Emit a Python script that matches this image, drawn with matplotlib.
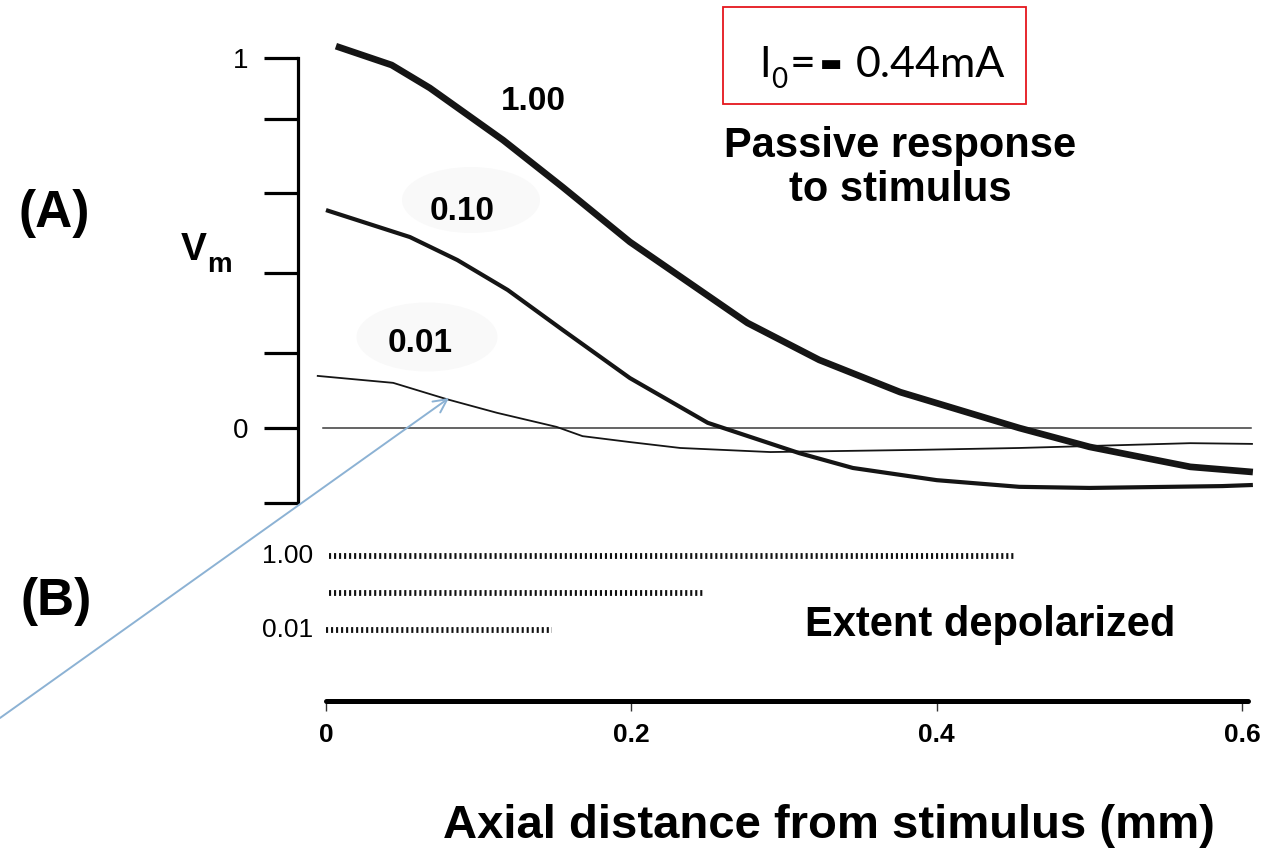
import matplotlib
matplotlib.use("Agg")
import matplotlib.pyplot as plt
from matplotlib.patches import Ellipse, Rectangle

# ---------------- data ----------------
# (A) passive response: axial distance (mm) vs normalised Vm
x_100 = [0.0065, 0.043, 0.068, 0.116, 0.155, 0.199, 0.276, 0.323, 0.376, 0.454, 0.500, 0.566, 0.607]
v_100 = [1.032, 0.981, 0.919, 0.778, 0.651, 0.503, 0.284, 0.184, 0.097, 0.0, -0.051, -0.105, -0.119]

x_010 = [0.0, 0.055, 0.086, 0.119, 0.155, 0.199, 0.250, 0.310, 0.345, 0.400, 0.454, 0.500, 0.587, 0.607]
v_010 = [0.589, 0.516, 0.454, 0.373, 0.265, 0.135, 0.014, -0.068, -0.108, -0.141, -0.159, -0.162, -0.157, -0.154]

x_001 = [-0.006, 0.044, 0.079, 0.112, 0.151, 0.168, 0.199, 0.232, 0.291, 0.389, 0.454, 0.566, 0.607]
v_001 = [0.141, 0.122, 0.078, 0.041, 0.003, -0.022, -0.038, -0.054, -0.065, -0.059, -0.054, -0.041, -0.043]

curve_labels = ["1.00", "0.10", "0.01"]
zero_line_x = [-0.002, 0.606]

# (B) extent depolarized (mm)
extent_start = [0.002, 0.002, 0.0]
extent_end = [0.451, 0.247, 0.148]
extent_labels = ["1.00", "", "0.01"]

x_ticks = [0, 0.2, 0.4, 0.6]
x_ticklabels = ["0", "0.2", "0.4", "0.6"]
vm_ticks = [-0.203, 0.0, 0.203, 0.419, 0.635, 0.835, 1.0]
vm_ticklabels = ["", "0", "", "", "", "", "1"]

# ---------------- layout ----------------
W, H = 1273, 849
X0, Y0, SX, SY = 326, 428, 1527.0, 370.0   # pixel origin and scale of data space

def fx(px):
    return px / W

def fy(py):
    return 1 - py / H

def dx(px):
    return (px - X0) / SX

def dy(py):
    return (Y0 - py) / SY

BOLD = ["Liberation Sans", "DejaVu Sans"]

fig = plt.figure(figsize=(W / 100, H / 100), dpi=100)
fig.patch.set_facecolor("white")
ax = fig.add_axes([0, 0, 1, 1])
ax.set_facecolor("none")
ax.set_xlim(dx(0), dx(W))
ax.set_ylim(dy(H), dy(0))

# faint label backgrounds
for (cx, cy, w, h) in [(471, 200, 138, 66), (427, 337, 141, 69)]:
    fig.patches.append(Ellipse((fx(cx), fy(cy)), w / W, h / H, transform=fig.transFigure,
                               facecolor="#f9f9f9", edgecolor="none", zorder=0))

# spines
ax.spines["top"].set_visible(False)
ax.spines["right"].set_visible(False)
ax.spines["left"].set_position(("data", dx(298)))
ax.spines["left"].set_bounds(vm_ticks[0], vm_ticks[-1])
ax.spines["left"].set_linewidth(2.3)
ax.spines["bottom"].set_position(("data", dy(701)))
ax.spines["bottom"].set_bounds(0, 0.604)
ax.spines["bottom"].set_linewidth(3.6)
ax.spines["bottom"].set_capstyle("round")

ax.set_yticks(vm_ticks)
ax.set_yticklabels(vm_ticklabels, family=BOLD, fontsize=20)
ax.tick_params(axis="y", length=24.5, width=2.3, pad=11, direction="out")
ax.set_xticks(x_ticks)
ax.set_xticklabels(x_ticklabels, family=BOLD, fontsize=19, fontweight="bold")
ax.tick_params(axis="x", length=7, width=1.0, pad=9, direction="out", color="#333333")

# curves
ax.plot(zero_line_x, [0, 0], color="#3a3a3a", lw=1.1, zorder=2)
ax.plot(x_100, v_100, color="#151515", lw=4.8, solid_capstyle="butt", zorder=3)
ax.plot(x_010, v_010, color="#151515", lw=3.0, solid_capstyle="butt", zorder=3)
ax.plot(x_001, v_001, color="#151515", lw=1.3, solid_capstyle="butt", zorder=3)

# curve labels
for lab, (px, py) in zip(curve_labels, [(533, 101), (462, 211), (420, 343)]):
    fig.text(fx(px), fy(py), lab, family=BOLD, fontweight="bold", fontsize=24,
             ha="center", va="center")

# (B) dotted extents
row_py = [556, 593, 630]
for s, e, lab, py in zip(extent_start, extent_end, extent_labels, row_py):
    ax.plot([s, e], [dy(py), dy(py)], color="#111111", lw=4.2,
            linestyle=(0, (0.36, 0.5)), dash_capstyle="butt")
    if lab:
        fig.text(fx(288), fy(py), lab, family=BOLD, fontsize=19, ha="center", va="center")

# arrow
ax.annotate("", xy=(dx(449), dy(398)), xytext=(dx(0), dy(718)),
            arrowprops=dict(arrowstyle="->", color="#8cb2d4", lw=1.4, mutation_scale=24,
                            shrinkA=0, shrinkB=0))

# texts
fig.text(fx(54), fy(213), "(A)", family=BOLD, fontweight="bold", fontsize=37, ha="center", va="center")
fig.text(fx(56), fy(602), "(B)", family=BOLD, fontweight="bold", fontsize=37, ha="center", va="center")
fig.text(fx(194), fy(250), "V", family=BOLD, fontweight="bold", fontsize=28, ha="center", va="center")
fig.text(fx(219), fy(265), "m", family=BOLD, fontweight="bold", fontsize=20, ha="center", va="center")

fig.text(fx(900), fy(168), "Passive response\nto stimulus", family=BOLD, fontweight="bold",
         fontsize=30, ha="center", va="center", linespacing=1.15)
fig.text(fx(990), fy(625), "Extent depolarized", family=BOLD, fontweight="bold",
         fontsize=30, ha="center", va="center")
fig.text(fx(829), fy(838), "Axial distance from stimulus (mm)", family=BOLD, fontweight="bold",
         fontsize=34, ha="center", va="baseline")

# current box
fig.patches.append(Rectangle((fx(723), fy(104)), (1026 - 723) / W, (104 - 7) / H,
                             transform=fig.transFigure, fill=False, edgecolor="#e5161c", lw=1.3))
GILL = ["Lato", "DejaVu Sans"]
fig.text(fx(759), fy(77), "I", family=GILL, fontsize=30, ha="left", va="baseline")
fig.text(fx(771), fy(88), "0", family=GILL, fontsize=20, ha="left", va="baseline")
fig.text(fx(790), fy(77), "=", family=GILL, fontsize=32, ha="left", va="baseline")
fig.text(fx(831), fy(64), "\u25ac", family=["DejaVu Sans"], fontsize=17, ha="center", va="center")
fig.text(fx(856), fy(77), "0.44mA", family=GILL, fontsize=31, ha="left", va="baseline")

fig.savefig("out.png", dpi=100, facecolor="white")
